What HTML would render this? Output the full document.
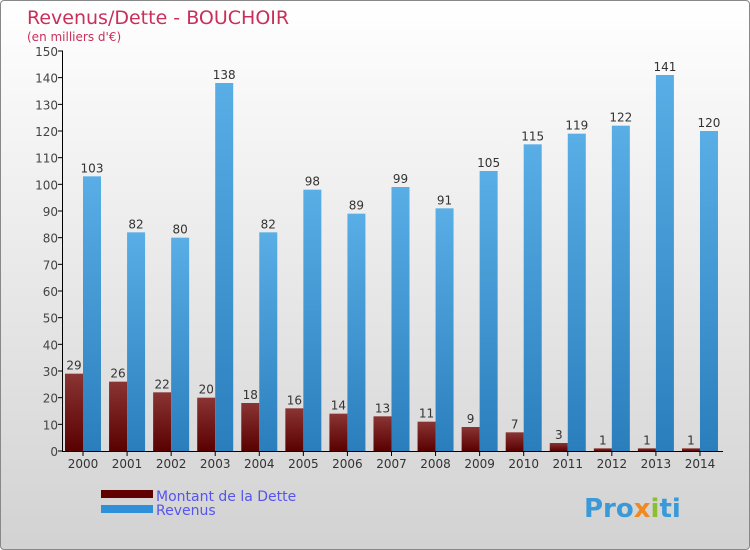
<!DOCTYPE html>
<html><head><meta charset="utf-8"><style>
body{margin:0}
#wrap{width:750px;height:550px;position:relative;overflow:hidden;box-sizing:border-box;border:1px solid #888;border-radius:4px;background:linear-gradient(#ffffff,#d2d2d2);font-family:"DejaVu Sans","Liberation Sans",sans-serif}
svg text{font-family:"DejaVu Sans","Liberation Sans",sans-serif}
</style></head><body>
<div id="wrap">
<svg id="chart" width="750" height="550">
<defs>
<linearGradient id="gd" x1="0" y1="0" x2="0" y2="1"><stop offset="0" stop-color="#8a3434"/><stop offset="1" stop-color="#5a0000"/></linearGradient>
<linearGradient id="gr" x1="0" y1="0" x2="0" y2="1"><stop offset="0" stop-color="#5aaee6"/><stop offset="1" stop-color="#2a7ebc"/></linearGradient>
</defs>
<text x="26" y="23" font-size="19" fill="#c8305a">Revenus/Dette - BOUCHOIR</text>
<text x="26" y="40" font-size="12" fill="#c8305a">(en milliers d'€)</text>
<g id="g"></g>
<rect x="100" y="489" width="52" height="8" fill="#600000"/>
<rect x="100" y="504" width="52" height="8" fill="#2e90d8"/>
<text x="155" y="500" font-size="14" fill="#5555ee">Montant de la Dette</text>
<text x="155" y="514" font-size="14" fill="#5555ee">Revenus</text>
<text x="583" y="516" font-size="26" font-weight="bold" fill="#3a9ad8">Pro<tspan fill="#f08a20">x</tspan><tspan fill="#8ac030">i</tspan>ti</text>
</svg>
</div>
<script>
const years=["2000","2001","2002","2003","2004","2005","2006","2007","2008","2009","2010","2011","2012","2013","2014"];
const dette=[29,26,22,20,18,16,14,13,11,9,7,3,1,1,1];
const revenus=[103,82,80,138,82,98,89,99,91,105,115,119,122,141,120];
const yTicks=[0,10,20,30,40,50,60,70,80,90,100,110,120,130,140,150];
const NS="http://www.w3.org/2000/svg",g=document.getElementById('g');
const y=v=>450-v*400/150, xc=i=>82+i*44.07;
function mk(t,a){const e=document.createElementNS(NS,t);for(const k in a)e.setAttribute(k,a[k]);g.appendChild(e);return e;}
yTicks.forEach(v=>{
 const l=mk('line',{x1:57,x2:62,y1:y(v),y2:y(v),stroke:'#000'});
 
 
 const t=mk('text',{x:57,y:y(v)+5,'font-size':12,fill:'#444','text-anchor':'end'});t.textContent=v;
 
 
});
years.forEach((yr,i)=>{
 const c=xc(i);
 const b1=mk('rect',{x:c-18,y:y(dette[i]),width:18,height:450-y(dette[i]),fill:'url(#gd)'});
 
 
 const b2=mk('rect',{x:c,y:y(revenus[i]),width:18,height:450-y(revenus[i]),fill:'url(#gr)'});
 
 
 const t1=mk('text',{x:c-9,y:y(dette[i])-4,'font-size':12,fill:'#333','text-anchor':'middle'});t1.textContent=dette[i];
 
 
 const t2=mk('text',{x:c+9,y:y(revenus[i])-4,'font-size':12,fill:'#333','text-anchor':'middle'});t2.textContent=revenus[i];
 
 
 const tk=mk('line',{x1:c,x2:c,y1:450,y2:455,stroke:'#000'});
 
 
 const xl=mk('text',{x:c,y:467,'font-size':12,fill:'#333','text-anchor':'middle'});xl.textContent=yr;
 
 
});
const ax=mk('line',{x1:61.5,x2:61.5,y1:50,y2:451,stroke:'#000'});


const bx=mk('line',{x1:61,x2:722,y1:450.5,y2:450.5,stroke:'#000'});


</script>
</body></html>
